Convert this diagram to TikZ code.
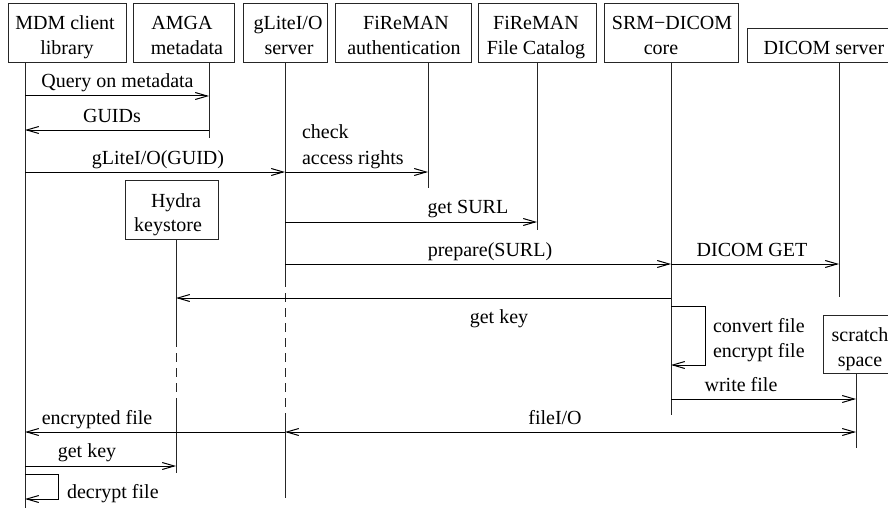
\documentclass[tikz,border=0pt]{standalone}
\usepackage{fontspec}
\setmainfont{Liberation Serif}
\usetikzlibrary{arrows.meta}
\begin{document}
\begin{tikzpicture}[x=1pt,y=-1pt,
  font=\fontsize{20}{25}\selectfont,
  box/.style={draw=black!85, line width=1pt, inner sep=0pt, outer sep=0pt},
  lbl/.style={anchor=base, inner sep=0pt, outer sep=0pt},
  lbll/.style={anchor=base west, inner sep=0pt, outer sep=0pt},
  life/.style={draw=black!85, line width=1pt},
  lifedash/.style={draw=black!85, line width=1pt, dash pattern=on 9pt off 6pt},
  msg/.style={draw=black, line width=1pt, -{Straight Barb[length=12pt,width=7pt]}},
  msgb/.style={draw=black, line width=1pt, {Straight Barb[length=12pt,width=7pt]}-{Straight Barb[length=12pt,width=7pt]}}]
\useasboundingbox (0,0) rectangle (888,508);
% boxes
\node[box,minimum width=118pt,minimum height=59pt] (mdm) at (67,33.5) {};
\node[box,minimum width=101pt,minimum height=59pt] (amga) at (183.5,33.5) {};
\node[box,minimum width=84pt,minimum height=59pt] (glite) at (285,33.5) {};
\node[box,minimum width=136pt,minimum height=59pt] (auth) at (403,33.5) {};
\node[box,minimum width=118pt,minimum height=59pt] (cat) at (537,33.5) {};
\node[box,minimum width=134pt,minimum height=59pt] (srm) at (671,33.5) {};
\node[box,minimum width=150pt,minimum height=34pt] (dicom) at (822,46) {};
\node[box,minimum width=93pt,minimum height=59pt] (hydra) at (171.5,209.5) {};
\node[box,minimum width=76pt,minimum height=58pt] (scratch) at (861,344) {};
% box texts
\node[lbl] (tm1) at (65,30) {MDM client};
\node[lbl] (tm2) at (67,55) {library};
\node[lbl] (ta1) at (182,30) {AMGA};
\node[lbl] (ta2) at (187,55) {metadata};
\node[lbl] (tg1) at (288,30) {gLiteI/O};
\node[lbl] (tg2) at (289,55) {server};
\node[lbl] (tf1) at (406,30) {FiReMAN};
\node[lbl] (tf2) at (404,55) {authentication};
\node[lbl] (tc1) at (536,30) {FiReMAN};
\node[lbl] (tc2) at (536,55) {File Catalog};
\node[lbl] (ts1) at (672,30) {SRM−DICOM};
\node[lbl] (ts2) at (661,55) {core};
\node[lbl] (td1) at (824,55) {DICOM server};
\node[lbl] (th1) at (176,207) {Hydra};
\node[lbl] (th2) at (168,231) {keystore};
\node[lbl] (tx1) at (860,341) {scratch};
\node[lbl] (tx2) at (860,366) {space};
% lifeline tops
\coordinate (lm) at (25,63);
\coordinate (la) at (209,63);
\coordinate (lg) at (285,63);
\coordinate (lau) at (428,63);
\coordinate (lc) at (537,63);
\coordinate (ls) at (671,63);
\coordinate (ld) at (839,63);
\coordinate (lh) at (176,239);
\coordinate (lsc) at (856,373);
% lifelines
\draw[life] (lm) -- (lm |- 0,508);
\draw[life] (la) -- (la |- 0,138);
\draw[life] (lg) -- (lg |- 0,278);
\draw[lifedash] (lg |- 0,278) -- (lg |- 0,421);
\draw[life] (lg |- 0,421) -- (lg |- 0,498);
\draw[life] (lau) -- (lau |- 0,188);
\draw[life] (lc) -- (lc |- 0,230);
\draw[life] (ls) -- (ls |- 0,415);
\draw[life] (ld) -- (ld |- 0,297);
\draw[life] (lh) -- (lh |- 0,338);
\draw[lifedash] (lh |- 0,338) -- (lh |- 0,400);
\draw[life] (lh |- 0,400) -- (lh |- 0,473);
\draw[life] (lsc) -- (lsc |- 0,448);
% messages
\draw[msg] (lm |- 0,96) -- (la |- 0,96);
\node[lbl] (l1) at (117.5,88) {Query on metadata};
\draw[msg] (la |- 0,130) -- (lm |- 0,130);
\node[lbl] (l2) at (112,122) {GUIDs};
\draw[msg] (lm |- 0,172) -- (lg |- 0,172);
\node[lbl] (l3) at (158,164) {gLiteI/O(GUID)};
\draw[msg] (lg |- 0,172) -- (lau |- 0,172);
\node[lbll] (l4a) at (302,139) {check};
\node[lbll] (l4b) at (302,164) {access rights};
\draw[msg] (lg |- 0,222) -- (lc |- 0,222);
\node[lbl] (l5) at (468,213) {get SURL};
\draw[msg] (lg |- 0,264) -- (ls |- 0,264);
\node[lbl] (l6) at (490,256) {prepare(SURL)};
\draw[msg] (ls |- 0,264) -- (ld |- 0,264);
\node[lbl] (l7) at (752,256) {DICOM GET};
\draw[msg] (ls |- 0,298) -- (lh |- 0,298);
\node[lbl] (l8) at (499,323) {get key};
\draw[msg] (ls |- 0,306) -- (705,306) -- (705,365) -- (ls |- 0,365);
\node[lbll] (l9a) at (713,332) {convert file};
\node[lbll] (l9b) at (713,357) {encrypt file};
\draw[msg] (ls |- 0,399) -- (lsc |- 0,399);
\node[lbl] (l10) at (741,391) {write file};
\draw[msg] (lg |- 0,432) -- (lm |- 0,432);
\node[lbl] (l11) at (97,424) {encrypted file};
\draw[msgb] (lg |- 0,432) -- (lsc |- 0,432);
\node[lbl] (l12) at (555,424) {fileI/O};
\draw[msg] (lm |- 0,466) -- (lh |- 0,466);
\node[lbl] (l13) at (87,457) {get key};
\draw[msg] (lm |- 0,474) -- (58,474) -- (58,499) -- (lm |- 0,499);
\node[lbll] (l14) at (67,498) {decrypt file};
\end{tikzpicture}
\end{document}
